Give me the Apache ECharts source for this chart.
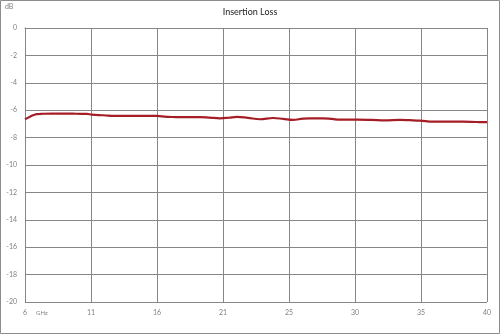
<!DOCTYPE html>
<html>
<head>
<meta charset="utf-8">
<script src="https://cdn.jsdelivr.net/npm/echarts@6/dist/echarts.min.js"></script>
<style>
html,body{margin:0;padding:0;background:#fff;}
#c{width:500px;height:334px;}
</style>
</head>
<body>
<div id="c"></div>
<script>
// Frequencies (GHz) and insertion loss (dB)
var freqGHz = [6.0, 6.37, 6.86, 7.32, 8.0, 8.94, 9.8, 10.56, 10.91, 11.8, 12.62, 13.4, 14.1, 15.0, 15.71, 16.45, 17.1, 17.77, 18.88, 19.6, 20.35, 21.0, 21.6, 22.4, 23.3, 24.25, 25.0, 25.72, 26.46, 27.2, 27.93, 28.6, 29.18, 30.43, 31.5, 32.49, 33.6, 34.3, 35.07, 36.03, 37.0, 38.24, 39.2, 40.0];
var lossDB  = [-6.66, -6.47, -6.29, -6.26, -6.25, -6.25, -6.26, -6.27, -6.32, -6.37, -6.42, -6.42, -6.42, -6.41, -6.42, -6.49, -6.50, -6.51, -6.50, -6.54, -6.59, -6.55, -6.49, -6.56, -6.66, -6.57, -6.63, -6.70, -6.62, -6.60, -6.59, -6.64, -6.69, -6.69, -6.71, -6.74, -6.71, -6.73, -6.76, -6.84, -6.84, -6.84, -6.86, -6.87];
var xTickLabels = ['6', '11', '16', '21', '25', '30', '35', '40'];
var yTickValues = [0, -2, -4, -6, -8, -10, -12, -14, -16, -18, -20];
var titleText = 'Insertion Loss';
var yUnit = 'dB';
var xUnit = 'GHz';

var fStart = 6, fEnd = 40;
var span = fEnd - fStart;
var step = span / (xTickLabels.length - 1);
var seriesData = freqGHz.map(function (f, i) { return [f - fStart, lossDB[i]]; });

var chart = echarts.init(document.getElementById('c'), null, {renderer: 'canvas'});
var grey = '#868686';
var labelFont = 'Lato, "Noto Sans", sans-serif';
chart.setOption({
  animation: false,
  backgroundColor: '#fff',
  title: {
    text: titleText, left: 'center', top: 3,
    textStyle: {fontSize: 9, fontWeight: 'normal', color: '#222', fontFamily: labelFont}
  },
  grid: {left: 25, right: 13, top: 28, bottom: 32, containLabel: false},
  xAxis: {
    type: 'value', min: 0, max: span, interval: step,
    axisLine: {show: true, lineStyle: {color: grey, width: 1}},
    axisTick: {show: false},
    splitLine: {show: true, lineStyle: {color: grey, width: 1}},
    axisLabel: {
      color: '#808080', fontSize: 7, fontFamily: labelFont, margin: 7,
      formatter: function (v) { return xTickLabels[Math.round(v / step)]; }
    }
  },
  yAxis: {
    type: 'value', min: yTickValues[yTickValues.length - 1], max: yTickValues[0], interval: 2,
    axisLine: {show: true, lineStyle: {color: grey, width: 1}},
    axisTick: {show: false},
    splitLine: {show: true, lineStyle: {color: grey, width: 1}},
    axisLabel: {color: '#808080', fontSize: 7, fontFamily: labelFont, margin: 8}
  },
  graphic: [
    {type: 'rect', shape: {x: 0.5, y: 0.5, width: 499, height: 333}, style: {fill: 'none', stroke: '#8c8c8c', lineWidth: 1}, z: 100},
    {type: 'text', left: 5, top: 3, style: {text: yUnit, fill: '#808080', font: '7px ' + labelFont}},
    {type: 'text', left: 36, top: 310, style: {text: xUnit, fill: '#808080', font: '6px ' + labelFont}}
  ],
  series: [{
    type: 'line', data: seriesData, showSymbol: false, smooth: 0.4,
    lineStyle: {color: '#a51e26', width: 2.2},
    itemStyle: {color: '#a51e26'}
  }]
});
</script>
</body>
</html>
